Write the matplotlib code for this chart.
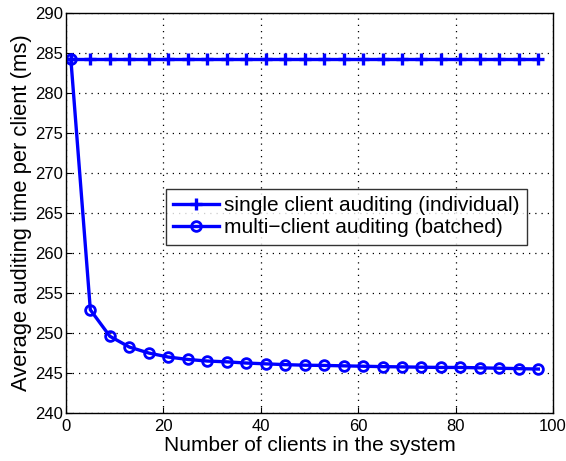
import matplotlib
matplotlib.use("Agg")
import matplotlib.pyplot as plt

plt.rcParams['font.family'] = ['Liberation Sans', 'DejaVu Sans']

clients = [1, 5, 9, 13, 17, 21, 25, 29, 33, 37, 41, 45, 49, 53, 57, 61, 65, 69, 73, 77, 81, 85, 89, 93, 97]
single = [284.2] * 25
multi = [284.2, 252.9, 249.6, 248.25, 247.5, 247.0, 246.7, 246.5, 246.4, 246.25, 246.15, 246.05,
         245.98, 245.95, 245.9, 245.85, 245.8, 245.77, 245.73, 245.7, 245.7, 245.65, 245.6, 245.55, 245.5]
xticks = [0, 20, 40, 60, 80, 100]
yticks = [240, 245, 250, 255, 260, 265, 270, 275, 280, 285, 290]

fig = plt.figure(figsize=(5.66, 4.61), dpi=100)
ax = fig.add_axes([0.1166, 0.104, 0.8604, 0.868])

ax.plot(clients, single, color='#0000ff', lw=2.4, marker='+', ms=8, mew=2.4,
        label='single client auditing (individual)')
ax.plot(clients, multi, color='#0000ff', lw=2.4, marker='o', ms=7, mew=2.0, mfc='none',
        label='multi\u2212client auditing (batched)')

ax.set_xlim(0, 100)
ax.set_ylim(240, 290)
ax.set_xticks(xticks)
ax.set_yticks(yticks)
ax.tick_params(direction='in', labelsize=12, length=4, colors='black')
ax.tick_params(axis='x', pad=4)
ax.tick_params(axis='y', pad=2)
for s in ax.spines.values():
    s.set_linewidth(1.0)
ax.grid(True, linestyle=(0, (1, 4)), color='black', linewidth=0.9)
ax.set_xlabel('Number of clients in the system', fontsize=15, labelpad=2)
ax.set_ylabel('Average auditing time per client (ms)', fontsize=15.8, labelpad=2)

leg = ax.legend(loc='upper left', bbox_to_anchor=(0.205, 0.56), fontsize=15, frameon=True,
                fancybox=False, edgecolor='black', borderpad=0.35, handlelength=2.2,
                handletextpad=0.25, labelspacing=0.15, borderaxespad=0)
leg.get_frame().set_linewidth(1.0)

fig.savefig('out.png', dpi=100)
